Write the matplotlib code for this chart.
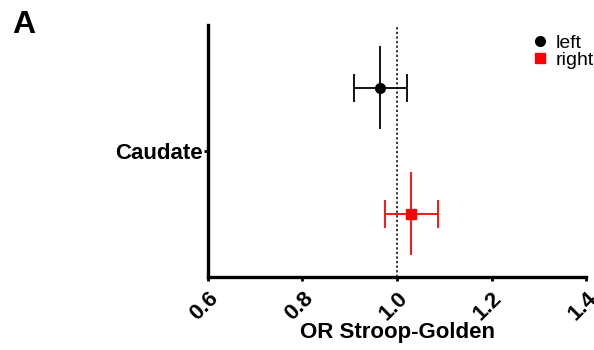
import numpy as np
import matplotlib.pyplot as plt

plt.rcParams['font.family'] = ['Liberation Sans', 'DejaVu Sans']

# data
sides = ['left', 'right']
odds = [0.963, 1.029]
ci_low = [0.908, 0.975]
ci_high = [1.022, 1.086]
ypos = [0.5, -0.5]
colors = ['black', 'red']
markers = ['o', 's']

fig = plt.figure(figsize=(5.94, 3.5), dpi=100)
ax = fig.add_axes([0.350, 0.209, 0.637, 0.720])

for i in range(len(sides)):
    lo = odds[i] - ci_low[i]
    hi = ci_high[i] - odds[i]
    ax.errorbar(odds[i], ypos[i], xerr=[[lo], [hi]], fmt='none',
                ecolor=colors[i], elinewidth=1.3, capsize=10, capthick=1.3)
    ax.vlines(odds[i], ypos[i] - 0.33, ypos[i] + 0.33, color=colors[i], lw=1.3)
    ax.plot(odds[i], ypos[i], marker=markers[i], color=colors[i],
            markersize=7, linestyle='none', label=sides[i])

ax.axvline(1.0, color='black', linestyle=(0, (1.5, 1.5)), lw=1.1, zorder=0)

ax.set_xlim(0.6, 1.4)
ax.set_ylim(-1.0, 1.0)
ax.set_xticks([0.6, 0.8, 1.0, 1.2, 1.4])
ax.set_xticklabels(['0.6', '0.8', '1.0', '1.2', '1.4'], rotation=45,
                   ha='right', rotation_mode='anchor', fontsize=16, fontweight='bold')
ax.set_yticks([0])
ax.set_yticklabels(['Caudate'], fontsize=16, fontweight='bold')
ax.tick_params(axis='both', width=2, length=3, pad=1)
ax.tick_params(axis='x', pad=5)

for s in ['top', 'right']:
    ax.spines[s].set_visible(False)
for s in ['left', 'bottom']:
    ax.spines[s].set_linewidth(2.4)

ax.set_xlabel('OR Stroop-Golden', fontsize=16, fontweight='bold', labelpad=-2)

ax.legend(loc='upper right', bbox_to_anchor=(1.05, 1.01), frameon=False,
          fontsize=14, handlelength=0.6, handletextpad=0.5, labelspacing=0.0,
          borderpad=0.1)

fig.text(0.020, 0.905, 'A', fontsize=23, fontweight='bold')

plt.savefig('out.png', dpi=100)
